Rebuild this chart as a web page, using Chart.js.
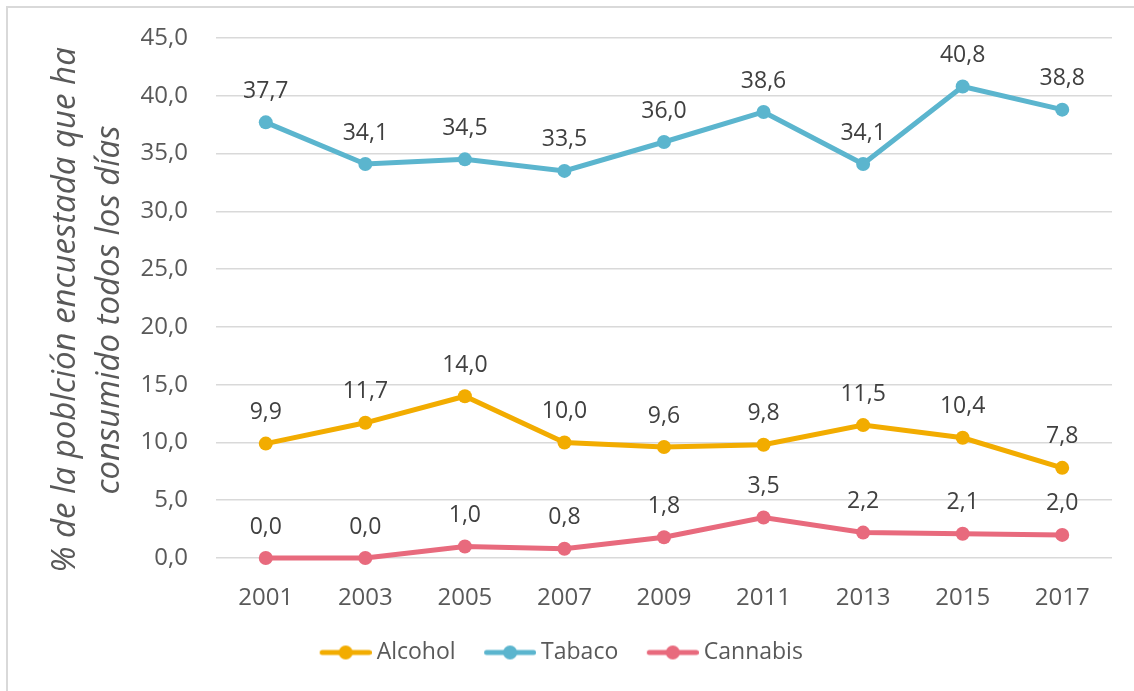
<!DOCTYPE html>
<html>
<head>
<meta charset="utf-8">
<script src="https://cdn.jsdelivr.net/npm/chart.js@4"></script>
<style>
  html, body { margin: 0; padding: 0; background: #fff; overflow: hidden; }
  #wrap { position: relative; width: 1134px; height: 691px; }
  #frame { position: absolute; left: 6px; top: 6px; width: 1300px; height: 900px; border: 2px solid #d9d9d9; }
  canvas { position: absolute; left: 0; top: 0; }
</style>
</head>
<body>
<div id="wrap">
  <div id="frame"></div>
  <canvas id="myChart" width="1134" height="691"></canvas>
</div>
<script>
var years = ["2001", "2003", "2005", "2007", "2009", "2011", "2013", "2015", "2017"];
var alcohol = [9.9, 11.7, 14.0, 10.0, 9.6, 9.8, 11.5, 10.4, 7.8];
var tabaco = [37.7, 34.1, 34.5, 33.5, 36.0, 38.6, 34.1, 40.8, 38.8];
var cannabis = [0.0, 0.0, 1.0, 0.8, 1.8, 3.5, 2.2, 2.1, 2.0];
var seriesNames = ["Alcohol", "Tabaco", "Cannabis"];
var seriesColors = ["#f2ac00", "#5bb5ce", "#e86a7d"];
var yTitle = ["% de la poblción encuestada que ha", "consumido todos los días"];

var fontName = "'Open Sans', 'Noto Sans', sans-serif";

function fmt(v) { return v.toFixed(1).replace(".", ","); }

// little line+dot picture for the legend (line sits at the right end)
function legendIcon(color) {
    let c = document.createElement("canvas");
    c.width = 59; c.height = 16;
    let g = c.getContext("2d");
    g.strokeStyle = color;
    g.lineWidth = 5;
    g.lineCap = "round";
    g.beginPath(); g.moveTo(9.5, 8); g.lineTo(56.5, 8); g.stroke();
    g.fillStyle = color;
    g.beginPath(); g.arc(33, 8, 7, 0, Math.PI * 2); g.fill();
    return c;
}
var icons = seriesColors.map(legendIcon);

// value labels above each point
var pointLabels = {
    id: "pointLabels",
    afterDatasetsDraw(chart) {
        const ctx = chart.ctx;
        ctx.save();
        ctx.font = "23px " + fontName;
        ctx.fillStyle = "#404040";
        ctx.textAlign = "center";
        ctx.textBaseline = "middle";
        chart.data.datasets.forEach(function(ds, i) {
            chart.getDatasetMeta(i).data.forEach(function(pt, j) {
                ctx.fillText(fmt(ds.data[j]), pt.x, pt.y - 31);
            });
        });
        ctx.restore();
    }
};

// rotated two-line axis title, sitting a little below the plot centre like the original
var axisTitle = {
    id: "axisTitle",
    afterDraw(chart) {
        const ctx = chart.ctx;
        const area = chart.chartArea;
        ctx.save();
        ctx.font = "italic 33px " + fontName;
        ctx.fillStyle = "#595959";
        ctx.textAlign = "center";
        ctx.textBaseline = "middle";
        ctx.translate(66, (area.top + area.bottom) / 2 + 12);
        ctx.rotate(-Math.PI / 2);
        yTitle.forEach(function(line, i) { ctx.fillText(line, 0, i * 44); });
        ctx.restore();
    }
};

function makeSet(i, values) {
    return {
        label: seriesNames[i],
        data: values,
        borderColor: seriesColors[i],
        backgroundColor: seriesColors[i],
        pointBackgroundColor: seriesColors[i],
        borderWidth: 5,
        pointRadius: 7,
        pointBorderWidth: 0,
        pointHoverRadius: 7,
        tension: 0,
        clip: false
    };
}

new Chart(document.getElementById("myChart"), {
    type: "line",
    data: {
        labels: years,
        datasets: [makeSet(0, alcohol), makeSet(1, tabaco), makeSet(2, cannabis)]
    },
    plugins: [pointLabels, axisTitle],
    options: {
        responsive: false,
        animation: false,
        events: [],
        layout: { padding: { left: 10, right: 22, top: 38, bottom: 17 } },
        plugins: {
            tooltip: { enabled: false },
            legend: {
                position: "bottom",
                labels: {
                    usePointStyle: true,
                    pointStyleWidth: 46,
                    padding: 28,
                    color: "#595959",
                    font: { family: fontName, size: 23 },
                    generateLabels: function(chart) {
                        return chart.data.datasets.map(function(ds, i) {
                            return { text: ds.label, pointStyle: icons[i], fillStyle: seriesColors[i],
                                     strokeStyle: seriesColors[i], lineWidth: 0, datasetIndex: i, fontColor: "#595959" };
                        });
                    }
                }
            }
        },
        scales: {
            x: {
                offset: true,
                grid: { display: false, drawTicks: false },
                border: { display: false },
                ticks: { color: "#595959", font: { family: fontName, size: 24 }, padding: 26,
                         maxRotation: 0, autoSkip: false },
                afterFit: function(scale) { scale.height = 55; }
            },
            y: {
                min: 0,
                max: 45,
                ticks: {
                    stepSize: 5,
                    color: "#595959",
                    font: { family: fontName, size: 24 },
                    padding: 4,
                    callback: function(v) { return fmt(v); }
                },
                // invisible tick marks keep the labels away from the plot
                grid: { color: "#d9d9d9", lineWidth: 1.5, drawTicks: true, tickLength: 24, tickColor: "rgba(0,0,0,0)" },
                border: { display: false },
                afterFit: function(scale) { scale.width = 206; }
            }
        }
    }
});
</script>
</body>
</html>
